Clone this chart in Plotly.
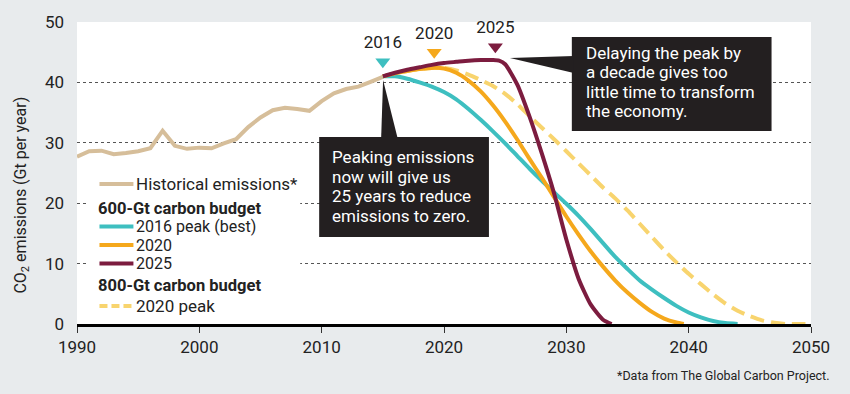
import plotly.graph_objects as go

# ---------------- data ----------------
hist_years = list(range(1990, 2016))
hist_vals = [27.7, 28.6, 28.7, 28.1, 28.3, 28.6, 29.1, 32.0, 29.5, 29.0,
             29.2, 29.1, 29.9, 30.6, 32.6, 34.2, 35.4, 35.8, 35.6, 35.3,
             36.9, 38.2, 38.9, 39.3, 40.1, 40.9]

teal_years = list(range(2015, 2045))
teal_vals = [41.0, 41.0, 40.6, 40.0, 39.3, 38.4, 37.2, 35.6, 33.8, 31.9,
             29.9, 27.8, 25.7, 23.7, 21.8, 19.9, 17.9, 15.7, 13.4, 11.1,
             9.1, 7.2, 5.7, 4.3, 3.0, 1.9, 1.1, 0.5, 0.15, 0.0]

orange_years = [2015, 2016, 2017, 2018, 2019, 2020, 2021, 2022, 2023, 2024,
                2025, 2026, 2027, 2028, 2029, 2030, 2031, 2032, 2033, 2034,
                2035, 2036, 2037, 2038, 2039, 2039.6]
orange_vals = [41.0, 41.5, 41.9, 42.2, 42.4, 42.3, 41.6, 40.3, 38.5, 36.2,
               33.5, 30.5, 27.3, 24.2, 21.0, 17.8, 14.8, 12.0, 9.5, 7.2,
               5.2, 3.5, 2.0, 0.9, 0.25, 0.0]

maroon_years = [2015, 2016, 2017, 2018, 2019, 2020, 2021, 2022, 2023, 2024,
                2024.5, 2025, 2026, 2027, 2028, 2029, 2030, 2031, 2032, 2033,
                2033.7]
maroon_vals = [41.0, 41.6, 42.1, 42.5, 42.9, 43.2, 43.4, 43.6, 43.7, 43.7,
               43.6, 43.0, 39.6, 34.3, 28.2, 21.6, 14.0, 7.5, 3.2, 0.7, 0.0]

dash_years = list(range(2015, 2051))
dash_vals = [41.0, 41.5, 41.9, 42.2, 42.4, 42.4, 42.0, 41.3, 40.4, 39.4,
             38.1, 36.4, 34.4, 32.5, 30.6, 28.6, 26.6, 24.6, 22.6, 20.8,
             18.8, 16.6, 14.4, 12.2, 10.2, 8.3, 6.6, 4.9, 3.4, 2.2,
             1.3, 0.6, 0.2, 0.0, 0.0, 0.0]

peak_labels = ["2016", "2020", "2025"]
peak_x = [2015.0, 2019.2, 2024.2]
peak_y = [43.4, 45.0, 45.9]

x_ticks = [1990, 2000, 2010, 2020, 2030, 2040, 2050]
y_ticks = [0, 10, 20, 30, 40, 50]

legend_labels = ["Historical emissions*", "600-Gt carbon budget", "2016 peak (best)",
                 "2020", "2025", "800-Gt carbon budget", "2020 peak"]

note1_lines = ["Peaking emissions", "now will give us", "25 years to reduce", "emissions to zero."]
note2_lines = ["Delaying the peak by", "a decade gives too", "little time to transform", "the economy."]
footnote = "*Data from The Global Carbon Project."

# ---------------- styles ----------------
C_HIST = "#d6be9a"
C_TEAL = "#3ebfc0"
C_ORANGE = "#f5a81c"
C_MAROON = "#7c1c3f"
C_DASH = "#f8d46e"
C_BOX = "#231f20"
C_TEXT = "#222222"
C_BG = "#e8ebed"
FONT = "Roboto, 'Liberation Sans', Arial, sans-serif"

W, H = 850, 394
ML, MR, MT, MB = 76.5, 38.5, 22, 70
PW, PH = W - ML - MR, H - MT - MB


def X(px):  # pixel -> year (for decorations)
    return 1990 + (px - ML) / PW * 60


def Y(py):  # pixel -> value
    return (MT + PH - py) / PH * 50


def XP(px):  # pixel -> paper
    return (px - ML) / PW


def YP(py):
    return (MT + PH - py) / PH


fig = go.Figure()

fig.add_trace(go.Scatter(x=hist_years, y=hist_vals, mode="lines",
                         line=dict(color=C_HIST, width=4), showlegend=False))
fig.add_trace(go.Scatter(x=dash_years, y=dash_vals, mode="lines",
                         line=dict(color=C_DASH, width=4, dash="14px,7px", shape="spline", smoothing=0.6),
                         showlegend=False))
fig.add_trace(go.Scatter(x=teal_years, y=teal_vals, mode="lines",
                         line=dict(color=C_TEAL, width=4, shape="spline", smoothing=0.6), showlegend=False))
fig.add_trace(go.Scatter(x=orange_years, y=orange_vals, mode="lines",
                         line=dict(color=C_ORANGE, width=4, shape="spline", smoothing=0.6), showlegend=False))
fig.add_trace(go.Scatter(x=maroon_years, y=maroon_vals, mode="lines",
                         line=dict(color=C_MAROON, width=4, shape="spline", smoothing=0.6), showlegend=False))

fig.add_trace(go.Scatter(x=peak_x, y=peak_y, mode="markers+text", text=peak_labels,
                         textposition="top center",
                         textfont=dict(size=17, color=C_TEXT, family=FONT),
                         marker=dict(symbol="triangle-down", size=13,
                                     color=[C_TEAL, C_ORANGE, C_MAROON]),
                         showlegend=False, cliponaxis=False))

shapes = []
annotations = []

# callout 1
shapes.append(dict(type="rect", xref="x", yref="y", x0=X(319), x1=X(489), y0=Y(237), y1=Y(137),
                   fillcolor=C_BOX, line=dict(width=0), layer="above"))
shapes.append(dict(type="path", xref="x", yref="y",
                   path=f"M {X(383)},{Y(80)} L {X(381)},{Y(140)} L {X(398)},{Y(140)} Z",
                   fillcolor=C_BOX, line=dict(width=0), layer="above"))
for i, t in enumerate(note1_lines):
    annotations.append(dict(xref="x", yref="y", x=X(331), y=Y(157 + 19.5 * i), xanchor="left",
                            yanchor="middle", text=t, showarrow=False, align="left", borderpad=0,
                            font=dict(size=17, color="white", family=FONT)))
# callout 2
shapes.append(dict(type="rect", xref="x", yref="y", x0=X(572), x1=X(772), y0=Y(131), y1=Y(37),
                   fillcolor=C_BOX, line=dict(width=0), layer="above"))
shapes.append(dict(type="path", xref="x", yref="y",
                   path=f"M {X(510)},{Y(58)} L {X(574)},{Y(56)} L {X(574)},{Y(73)} Z",
                   fillcolor=C_BOX, line=dict(width=0), layer="above"))
for i, t in enumerate(note2_lines):
    annotations.append(dict(xref="x", yref="y", x=X(585), y=Y(52.5 + 19.5 * i), xanchor="left",
                            yanchor="middle", text=t, showarrow=False, align="left", borderpad=0,
                            font=dict(size=17, color="white", family=FONT)))

# manual legend
shapes.append(dict(type="rect", xref="paper", yref="paper", x0=XP(86), x1=XP(300), y0=YP(318), y1=YP(172),
                   fillcolor="white", line=dict(width=0), layer="above"))
leg_rows = [
    (184, C_HIST, "solid", legend_labels[0], False, 17),
    (208, None, None, legend_labels[1], True, 16.5),
    (226.5, C_TEAL, "solid", legend_labels[2], False, 16),
    (245, C_ORANGE, "solid", legend_labels[3], False, 16),
    (263.5, C_MAROON, "solid", legend_labels[4], False, 16),
    (285, None, None, legend_labels[5], True, 16.5),
    (306, C_DASH, "dash", legend_labels[6], False, 17),
]
for py, col, dash, label, bold, fs in leg_rows:
    if col is not None:
        shapes.append(dict(type="line", xref="paper", yref="paper", x0=XP(99), x1=XP(133),
                           y0=YP(py), y1=YP(py), line=dict(color=col, width=4,
                                                           dash="8px,4px" if dash == "dash" else "solid"),
                           layer="above"))
        annotations.append(dict(xref="paper", yref="paper", x=XP(135), y=YP(py), xanchor="left",
                                yanchor="middle", text=label, showarrow=False, borderpad=0,
                                font=dict(size=fs, color=C_TEXT, family=FONT)))
    else:
        annotations.append(dict(xref="paper", yref="paper", x=XP(97), y=YP(py), xanchor="left",
                                yanchor="middle", text=f"<b>{label}</b>", showarrow=False, borderpad=0,
                                font=dict(size=fs, color=C_TEXT, family=FONT)))

# y-axis title
annotations.append(dict(xref="paper", yref="paper", x=XP(21), y=YP(195), xanchor="center", yanchor="middle",
                        text="CO<sub>2</sub> emissions (Gt per year)", textangle=-90, showarrow=False,
                        font=dict(size=16, color=C_TEXT, family=FONT)))
# footnote
annotations.append(dict(xref="paper", yref="paper", x=XP(833), y=YP(375), xanchor="right", yanchor="middle",
                        text=footnote, showarrow=False, font=dict(size=12.5, color=C_TEXT, family=FONT)))

fig.update_layout(
    width=W, height=H,
    margin=dict(l=ML, r=MR, t=MT, b=MB, pad=0),
    paper_bgcolor=C_BG,
    plot_bgcolor="white",
    font=dict(family=FONT, color=C_TEXT),
    shapes=shapes,
    annotations=annotations,
    showlegend=False,
)
fig.update_xaxes(range=[1990, 2050], tickvals=x_ticks, ticktext=[str(v) for v in x_ticks],
                 showgrid=False, zeroline=False, showline=True, linecolor="black", linewidth=3,
                 ticks="outside", ticklen=6, tickcolor="#333", tickwidth=1,
                 tickfont=dict(size=17, color=C_TEXT), layer="below traces", fixedrange=True)
fig.update_yaxes(range=[0, 50], tickvals=y_ticks, showgrid=True, gridcolor="#555", gridwidth=1,
                 griddash="dot", zeroline=False, showline=False, ticks="", ticklabelstandoff=12,
                 tickfont=dict(size=17, color=C_TEXT), layer="below traces", fixedrange=True)

fig.write_html("out.html", config={"displayModeBar": False},
               post_script=f"document.body.style.margin='0';document.body.style.background='{C_BG}';")
